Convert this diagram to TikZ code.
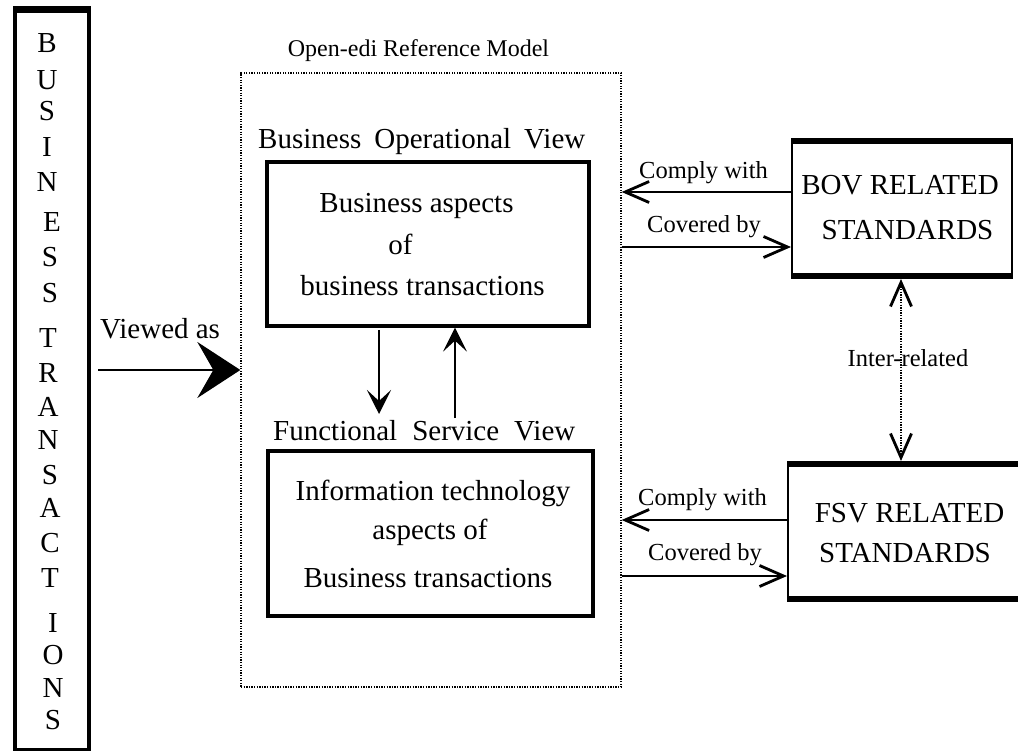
\documentclass[tikz,border=0pt]{standalone}
\usepackage{fontspec}
\setmainfont{Liberation Serif}
\usetikzlibrary{arrows.meta}
\begin{document}
\begin{tikzpicture}[x=1pt,y=-1pt,
  big/.style={font=\fontsize{29}{32}\selectfont, inner sep=0pt},
  lbl/.style={font=\fontsize{24.5}{27}\selectfont, inner sep=0pt},
  viewbox/.style={draw, line width=3.3pt, inner sep=0pt},
  stdbox/.style={draw, line width=2pt, inner sep=0pt},
  thickedge/.style={line width=6pt},
  modelbox/.style={draw, line width=1.3pt, dash pattern=on 1.3pt off 1.3pt, inner sep=0pt},
  barb/.tip={Straight Barb[length=24pt,width=21pt,line width=2.8pt]},
  conn/.style={line width=2pt, -barb},
  interconn/.style={line width=1.4pt, dash pattern=on 1.3pt off 1.3pt, barb-barb},
  vertarr/.style={line width=2pt, -{Stealth[length=24pt,width=24pt,inset=11pt]}},
  viewarr/.style={line width=2pt, -{Stealth[length=43pt,width=56pt,inset=16pt]}},
  letter/.style={font=\fontsize{29}{32}\selectfont, inner sep=0pt, anchor=center}
]
\useasboundingbox (0,0) rectangle (1018,751);

% left column box
\node[draw, line width=3.6pt, minimum width=74pt, minimum height=739pt, inner sep=0pt] (lb) at (52,380.5) {};
\draw[thickedge] (lb.north west) -- (lb.north east);
\foreach \ch/\xx/\yy [count=\i] in {B/47/43, U/47/80, S/47/111, I/47/147, N/47/182, E/52/222, S/50/257, S/50/293,
  T/48/338, R/48/373, A/48/407, N/48/440, S/50/475, A/50/508, C/50/543, T/50/578, I/53/623, O/53/655, N/53/688, S/53/720}
  \node[letter] (ch\i) at (\xx,\yy) {\ch};

% Open-edi reference model
\node[modelbox, minimum width=380pt, minimum height=614pt] (model) at (431,380) {};
\node[lbl, font=\fontsize{24}{27}\selectfont, anchor=base] (title) at (418.5,57) {Open-edi Reference Model};

% BOV
\node[big, anchor=base west] (bovtitle) at (258,149) {Business\hspace{13pt}Operational\hspace{13pt}View};
\node[viewbox, minimum width=322pt, minimum height=164pt] (bov) at (428,244) {};
\node[big, anchor=base] (bov1) at (416.5,213) {Business aspects};
\node[big, anchor=base] (bov2) at (400.5,255) {of};
\node[big, anchor=base] (bov3) at (422.5,296) {business transactions};

% FSV
\node[big, anchor=base west] (fsvtitle) at (273,440) {Functional\hspace{15pt}Service\hspace{15pt}View};
\node[viewbox, minimum width=325pt, minimum height=165pt] (fsv) at (430.5,533.5) {};
\node[big, anchor=base] (fsv1) at (433,500) {Information technology};
\node[big, anchor=base] (fsv2) at (430,539) {aspects of};
\node[big, anchor=base] (fsv3) at (428,587) {Business transactions};

% BOV and FSV between arrows
\coordinate (dstart) at (379,330);
\coordinate (dend) at (379,414);
\draw[vertarr] (dstart) -- (dend);
\coordinate (ustart) at (455,418);
\draw[vertarr] (ustart) -- (bov.south -| ustart);

% Viewed as
\node[big, anchor=base west] (viewed) at (100,339) {Viewed as};
\coordinate (vstart) at (98,370);
\draw[viewarr] (vstart) -- (model.west |- vstart);

% standards boxes
\node[stdbox, minimum width=220pt, minimum height=133pt] (bovstd) at (902,208.5) {};
\draw[thickedge] (bovstd.north west) -- (bovstd.north east);
\draw[thickedge] (bovstd.south west) -- (bovstd.south east);
\node[big, anchor=base] (bovstd1) at (900,195) {BOV RELATED};
\node[big, anchor=base] (bovstd2) at (907.5,240) {STANDARDS};

\node[stdbox, minimum width=242pt, minimum height=133pt] (fsvstd) at (909,531.5) {};
\draw[thickedge] (fsvstd.north west) -- (fsvstd.north east);
\draw[thickedge] (fsvstd.south west) -- (fsvstd.south east);
\node[big, anchor=base] (fsvstd1) at (909.5,522) {FSV RELATED};
\node[big, anchor=base] (fsvstd2) at (905,562) {STANDARDS};

% BOV connectors
\node[lbl, anchor=base west] (comply1) at (639,179) {Comply with};
\node[lbl, anchor=base west] (cover1) at (647,233) {Covered by};
\coordinate (c1) at (0,192);
\coordinate (v1) at (0,247);
\draw[conn] (bovstd.west |- c1) -- (model.east |- c1);
\draw[conn] (model.east |- v1) -- (bovstd.west |- v1);

% FSV connectors
\node[lbl, anchor=base west] (comply2) at (638,505) {Comply with};
\node[lbl, anchor=base west] (cover2) at (648,560) {Covered by};
\coordinate (c2) at (0,520);
\coordinate (v2) at (0,576);
\draw[conn] (fsvstd.west |- c2) -- (model.east |- c2);
\draw[conn] (model.east |- v2) -- (fsvstd.west |- v2);

% inter-related
\node[lbl, anchor=base] (inter) at (908,367) {Inter-related};
\coordinate (ix) at (901,0);
\draw[interconn, shorten <=3pt, shorten >=3pt] (bovstd.south -| ix) -- (fsvstd.north -| ix);
\end{tikzpicture}
\end{document}
